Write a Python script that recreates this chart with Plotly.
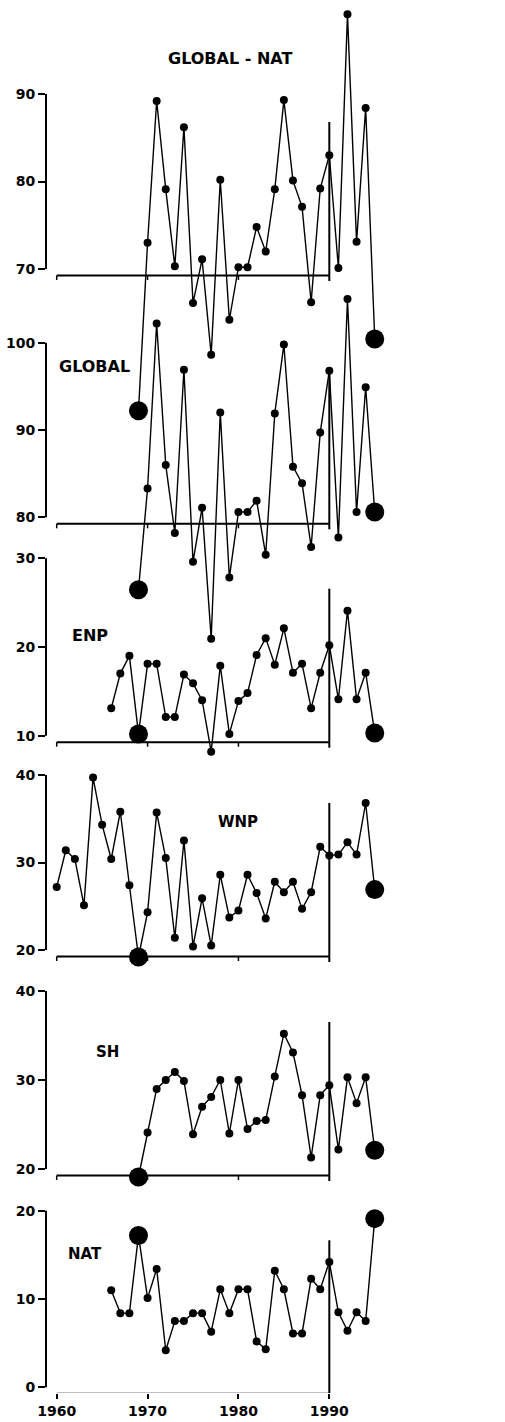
import plotly.graph_objects as go

# ---------------- data ----------------
years_gnat = list(range(1969, 1996))
global_minus_nat = [53.8, 73.0, 89.2, 79.1, 70.3, 86.2, 66.1, 71.1, 60.2, 80.2, 64.2, 70.2, 70.2,
                    74.8, 72.0, 79.1, 89.3, 80.1, 77.1, 66.2, 79.2, 83.0, 70.1, 99.1, 73.1, 88.4, 62.0]

years_global = list(range(1969, 1996))
global_vals = [71.7, 83.3, 102.2, 86.0, 78.2, 96.9, 74.9, 81.1, 66.1, 92.0, 73.1, 80.6, 80.6,
               81.9, 75.7, 91.9, 99.8, 85.8, 83.9, 76.6, 89.7, 96.8, 77.7, 105.0, 80.6, 94.9, 80.6]

years_enp = list(range(1966, 1996))
enp_vals = [13.1, 17.0, 19.0, 10.2, 18.1, 18.1, 12.1, 12.1, 16.9, 15.9, 14.0, 8.2, 17.9, 10.2, 13.9,
            14.8, 19.1, 21.0, 18.0, 22.1, 17.1, 18.1, 13.1, 17.1, 20.2, 14.1, 24.1, 14.1, 17.1, 10.3]

years_wnp = list(range(1960, 1996))
wnp_vals = [27.2, 31.4, 30.4, 25.1, 39.7, 34.3, 30.4, 35.8, 27.4, 19.2, 24.3, 35.7, 30.5, 21.4,
            32.5, 20.4, 25.9, 20.5, 28.6, 23.7, 24.5, 28.6, 26.5, 23.6, 27.8, 26.6, 27.8, 24.7,
            26.6, 31.8, 30.8, 30.9, 32.3, 30.9, 36.8, 26.9]

years_sh = list(range(1969, 1996))
sh_vals = [19.1, 24.1, 29.0, 30.0, 30.9, 29.9, 23.9, 27.0, 28.1, 30.0, 24.0, 30.0, 24.5, 25.4,
           25.5, 30.4, 35.2, 33.1, 28.3, 21.3, 28.3, 29.4, 22.2, 30.3, 27.4, 30.3, 22.1]

years_nat = list(range(1966, 1996))
nat_vals = [11.0, 8.4, 8.4, 17.2, 10.1, 13.4, 4.2, 7.5, 7.5, 8.4, 8.4, 6.3, 11.1, 8.4, 11.1, 11.1,
            5.2, 4.3, 13.2, 11.1, 6.1, 6.1, 12.3, 11.1, 14.2, 8.5, 6.4, 8.5, 7.5, 19.1]

highlight_years = [1969, 1995]
x_tick_years = [1960, 1970, 1980, 1990]
baseline_start, baseline_end = 1960, 1990

panel_names = ["GLOBAL - NAT", "GLOBAL", "ENP", "WNP", "SH", "NAT"]
panel_years = [years_gnat, years_global, years_enp, years_wnp, years_sh, years_nat]
panel_values = [global_minus_nat, global_vals, enp_vals, wnp_vals, sh_vals, nat_vals]
panel_ticks = [[70, 80, 90], [80, 90, 100], [10, 20, 30], [20, 30, 40], [20, 30, 40], [0, 10, 20]]

# ---------------- layout (pixel calibration of each panel) ----------------
W, H = 505, 1422
ML, MR, MT, MB = 46, 5, 0, 29
PLOT_H = H - MT - MB
PX_1960, PX_PER_YEAR = 56.7, 9.087
x_lo = 1960 - (PX_1960 - ML) / PX_PER_YEAR
x_hi = 1960 + (W - MR - PX_1960) / PX_PER_YEAR

# (top tick pixel y, bottom tick pixel y) for each panel
panel_px = [(94, 269), (342.7, 517.3), (558.3, 735.7), (775, 950), (991, 1169), (1210.7, 1387.3)]
# label: (year, pixel y, font size)
panel_label = [(1979.1, 58, 16), (1964.2, 366, 16), (1963.7, 635, 16),
               (1980.0, 822, 15), (1965.6, 1052, 15), (1963.1, 1254, 15)]

FONT = "DejaVu Sans"
fig = go.Figure()
layout = dict(width=W, height=H, margin=dict(l=ML, r=MR, t=MT, b=MB),
              paper_bgcolor="white", plot_bgcolor="white", showlegend=False,
              xaxis=dict(range=[x_lo, x_hi], tickvals=x_tick_years, ticks="outside", ticklen=5,
                         tickwidth=1.5, tickcolor="black", showline=False, showgrid=False,
                         zeroline=False,
                         tickfont=dict(family=FONT, size=14, color="black", weight="bold")))
shapes, annotations = [], []

for i in range(6):
    ax = "y" if i == 0 else f"y{i+1}"
    axkey = "yaxis" if i == 0 else f"yaxis{i+1}"
    ticks = panel_ticks[i]
    v_lo, v_hi = ticks[0], ticks[-1]
    py_hi, py_lo = panel_px[i]
    k = (v_hi - v_lo) / (py_lo - py_hi)  # data units per pixel

    def val(py, v_lo=v_lo, py_lo=py_lo, k=k):
        return v_lo + (py_lo - py) * k

    rng = [val(MT + PLOT_H), val(MT)]
    axdict = dict(range=rng, tickvals=ticks, ticks="outside", ticklen=7, tickwidth=1.5,
                  tickcolor="black", showline=False, showgrid=False, zeroline=False,
                  side="left", anchor="x",
                  tickfont=dict(family=FONT, size=14, color="black", weight="bold"))
    if i > 0:
        axdict["overlaying"] = "y"
    layout[axkey] = axdict

    yrs, vals = panel_years[i], panel_values[i]
    sizes = [19 if y in highlight_years else 8 for y in yrs]
    fig.add_trace(go.Scatter(x=yrs, y=vals, mode="lines+markers", yaxis=ax, xaxis="x",
                             line=dict(color="black", width=1.4),
                             marker=dict(color="black", size=sizes, opacity=1,
                                         line=dict(width=0)),
                             cliponaxis=False))

    # vertical spine between the end ticks
    shapes.append(dict(type="line", xref="paper", yref=ax, x0=0, x1=0, y0=v_lo, y1=v_hi,
                       line=dict(color="black", width=2)))
    # baseline with small ticks
    yb = val(py_lo + 6.5)
    shapes.append(dict(type="line", xref="x", yref=ax, x0=baseline_start, x1=baseline_end,
                       y0=yb, y1=yb, line=dict(color="black", width=2)))
    for xt in x_tick_years[:-1]:
        shapes.append(dict(type="line", xref="x", yref=ax, x0=xt, x1=xt, y0=yb, y1=val(py_lo + 11),
                           line=dict(color="black", width=1.5)))
    # vertical line at 1990
    shapes.append(dict(type="line", xref="x", yref=ax, x0=baseline_end, x1=baseline_end,
                       y0=val(py_lo + 12), y1=val(py_lo - 147),
                       line=dict(color="black", width=2)))
    lx, lpy, lsize = panel_label[i]
    annotations.append(dict(text=panel_names[i], x=lx, y=val(lpy), xref="x", yref=ax,
                            showarrow=False, xanchor="center", yanchor="middle",
                            font=dict(family=FONT, size=lsize, color="black", weight="bold")))

layout["shapes"] = shapes
layout["annotations"] = annotations
fig.update_layout(**layout)
fig.write_html("out.html")
